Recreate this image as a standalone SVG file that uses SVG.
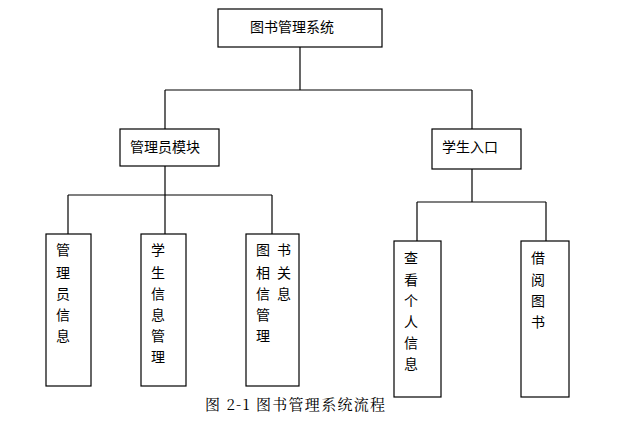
<svg xmlns="http://www.w3.org/2000/svg" width="629" height="445" viewBox="0 0 629 445">
<style>
rect{fill:#fff;stroke:#000;stroke-width:1.2}
line{stroke:#000;stroke-width:1.2}
text{font-family:"Noto Sans CJK SC","Liberation Sans",sans-serif;font-size:14px;fill:#000}
.v{text-anchor:middle}
.cap{font-family:"Noto Serif CJK SC","Liberation Mono","Noto Sans CJK SC",monospace;font-size:15px}
</style>
<rect width="629" height="445" style="fill:#fff;stroke:none"/>
<g id="connectors">
<line x1="300" y1="47" x2="300" y2="90"/>
<line x1="165" y1="90" x2="472" y2="90"/>
<line x1="165" y1="90" x2="165" y2="129"/>
<line x1="472" y1="90" x2="472" y2="129"/>
<line x1="165" y1="166" x2="165" y2="195"/>
<line x1="68" y1="195" x2="272" y2="195"/>
<line x1="68" y1="195" x2="68" y2="234"/>
<line x1="165" y1="195" x2="165" y2="234"/>
<line x1="272" y1="195" x2="272" y2="234"/>
<line x1="472" y1="169" x2="472" y2="202"/>
<line x1="417" y1="202" x2="546" y2="202"/>
<line x1="417" y1="202" x2="417" y2="241"/>
<line x1="546" y1="202" x2="546" y2="241"/>
</g>
<g id="root"><rect x="218" y="9" width="164" height="38"/><text x="250" y="32">图书管理系统</text></g>
<g id="admin"><rect x="120" y="129" width="99" height="37"/><text x="130" y="152">管理员模块</text></g>
<g id="student"><rect x="432" y="129" width="89" height="40"/><text x="442" y="152">学生入口</text></g>
<g id="n1"><rect x="46" y="234" width="45" height="152"/>
<text class="v" x="63"><tspan x="63" y="255">管</tspan><tspan x="63" y="278">理</tspan><tspan x="63" y="299">员</tspan><tspan x="63" y="320">信</tspan><tspan x="63" y="341">息</tspan></text></g>
<g id="n2"><rect x="141" y="234" width="45" height="152"/>
<text class="v" x="158"><tspan x="158" y="255">学</tspan><tspan x="158" y="278">生</tspan><tspan x="158" y="299">信</tspan><tspan x="158" y="320">息</tspan><tspan x="158" y="341">管</tspan><tspan x="158" y="362">理</tspan></text></g>
<g id="n3"><rect x="246" y="234" width="53" height="152"/>
<text class="v" x="263"><tspan x="263" y="255">图</tspan><tspan x="263" y="278">相</tspan><tspan x="263" y="299">信</tspan><tspan x="263" y="320">管</tspan><tspan x="263" y="341">理</tspan></text>
<text class="v" x="284"><tspan x="284" y="255">书</tspan><tspan x="284" y="278">关</tspan><tspan x="284" y="299">息</tspan></text></g>
<g id="n4"><rect x="394" y="241" width="47" height="156"/>
<text class="v" x="411"><tspan x="411" y="263">查</tspan><tspan x="411" y="285">看</tspan><tspan x="411" y="306">个</tspan><tspan x="411" y="327">人</tspan><tspan x="411" y="348">信</tspan><tspan x="411" y="369">息</tspan></text></g>
<g id="n5"><rect x="521" y="241" width="48" height="156"/>
<text class="v" x="538"><tspan x="538" y="263">借</tspan><tspan x="538" y="285">阅</tspan><tspan x="538" y="306">图</tspan><tspan x="538" y="327">书</tspan></text></g>
<text class="cap" x="205" y="410" textLength="180">图 2-1 图书管理系统流程</text>
</svg>
